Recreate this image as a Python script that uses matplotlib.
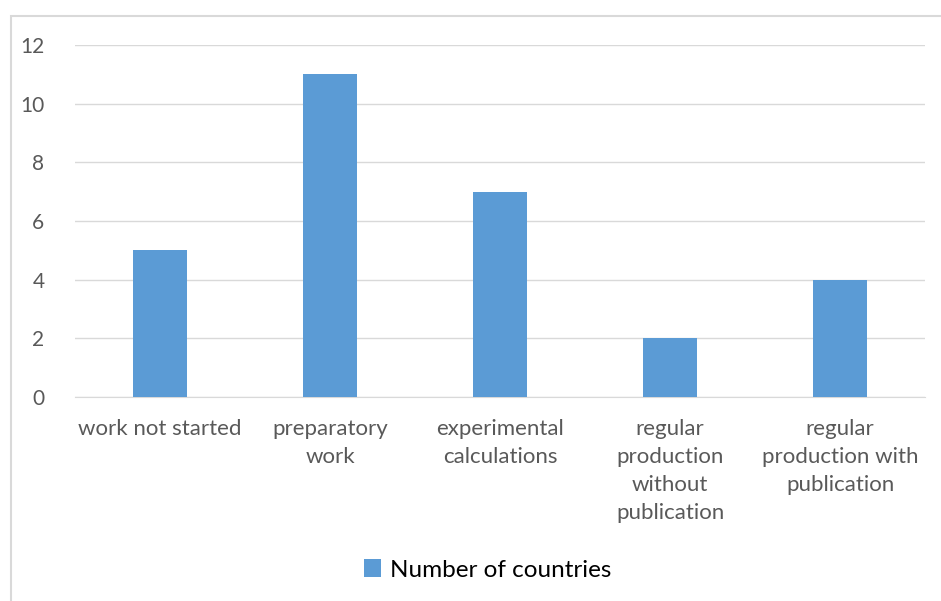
import matplotlib.pyplot as plt
import numpy as np

categories = ['work not started', 'preparatory\nwork', 'experimental\ncalculations',
              'regular\nproduction\nwithout\npublication', 'regular\nproduction with\npublication']
values = [5, 11, 7, 2, 4]
series_name = 'Number of countries'
yticks = [0, 2, 4, 6, 8, 10, 12]

W, H = 941, 601
fig = plt.figure(figsize=(W / 100, H / 100), dpi=100)
plt.rcParams['font.family'] = ['Lato', 'DejaVu Sans']

# outer chart border (only top/left visible)
border = plt.Rectangle((11 / W, -0.1), 1.2, (H - 16) / H + 0.1, transform=fig.transFigure,
                       fill=False, edgecolor='#d9d9d9', linewidth=1.5)
fig.patches.append(border)

ax = fig.add_axes([75 / W, 1 - 397 / H, 850 / W, (397 - 45) / H])
x = np.arange(len(categories))
bars = ax.bar(x, values, width=0.315, color='#5b9bd5', zorder=3, label=series_name)
ax.set_xlim(-0.5, len(categories) - 0.5)
ax.set_ylim(0, 12)
ax.set_yticks(yticks)
ax.grid(axis='y', color='#d9d9d9', linewidth=1, zorder=0)
for s in ['top', 'right', 'left']:
    ax.spines[s].set_visible(False)
ax.spines['bottom'].set_color('#d9d9d9')
ax.tick_params(axis='both', length=0, colors='#595959')
ax.tick_params(axis='y', pad=22, labelsize=15)
ax.tick_params(axis='x', pad=16, labelsize=16)
ax.set_xticks(x)
ax.set_xticklabels(categories, linespacing=1.5)

fig.legend(handles=[bars], labels=[series_name], loc='center', bbox_to_anchor=(0.518, 1 - 570 / H),
           frameon=False, fontsize=17.5, handlelength=0.7, handleheight=0.7, handletextpad=0.35)

fig.savefig('out.png', dpi=100)
